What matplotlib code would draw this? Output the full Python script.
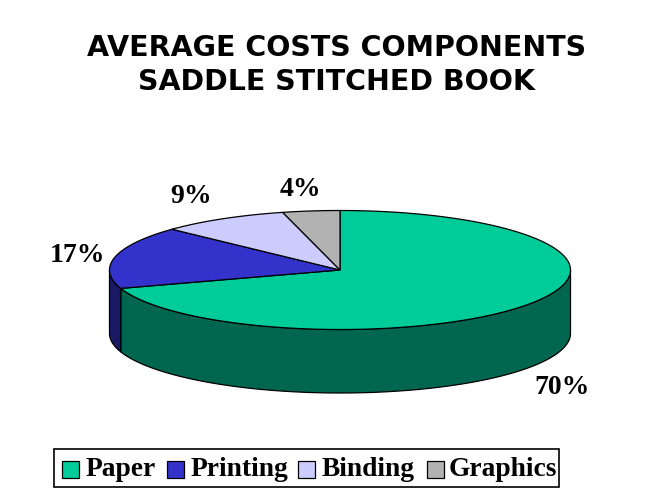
import numpy as np
import matplotlib
matplotlib.use("Agg")
import matplotlib.pyplot as plt
from matplotlib.patches import Polygon, Rectangle

title_lines = ["AVERAGE COSTS COMPONENTS", "SADDLE STITCHED BOOK"]
categories = ["Paper", "Printing", "Binding", "Graphics"]
values = [70, 17, 9, 4]
labels = ["70%", "17%", "9%", "4%"]
top_colors = ["#00CC99", "#3333CC", "#CCCCFF", "#B2B2B2"]
side_colors = ["#006650", "#191966", "#666680", "#595959"]

W, H = 670, 502
fig = plt.figure(figsize=(W/100, H/100), dpi=100, facecolor="white")
ax = fig.add_axes([0, 0, 1, 1])
ax.set_xlim(0, W); ax.set_ylim(H, 0); ax.axis("off")

cx, cy, rx, ry, depth = 340, 271, 230.5, 59.5, 63.5

def pt(a, dy=0):
    return cx + rx*np.cos(a), cy + dy - ry*np.sin(a)

# clockwise from 12 o'clock
fracs = np.array(values)/sum(values)
starts = np.pi/2 - 2*np.pi*np.concatenate([[0], np.cumsum(fracs)[:-1]])
ends = starts - 2*np.pi*fracs

# sides (front half only)
for s, e, c in zip(starts, ends, side_colors):
    t = np.linspace(s, e, 300)
    t = t[np.sin(t) <= 0]
    if len(t) < 2:
        continue
    x, y = pt(t)
    x2, y2 = pt(t[::-1], depth)
    ax.add_patch(Polygon(np.r_[np.c_[x, y], np.c_[x2, y2]], fc=c, ec="black", lw=0.9, zorder=2))

# tops
for s, e, c in zip(starts, ends, top_colors):
    t = np.linspace(s, e, 300)
    x, y = pt(t)
    ax.add_patch(Polygon(np.r_[[[cx, cy]], np.c_[x, y]], fc=c, ec="black", lw=0.9, zorder=3))

serif = "Liberation Serif"
lab_xy = [(562, 388), (77, 256), (191.5, 197), (300.5, 190)]
for l, (x, y) in zip(labels, lab_xy):
    ax.text(x, y, l, family=serif, weight="bold", size=20, ha="center", va="center", color="black")

for line, y in zip(title_lines, [48.5, 81.5]):
    ax.text(337, y, line, family="DejaVu Sans", weight="bold", size=20.5, ha="center", va="center", color="black")

# legend
ax.add_patch(Rectangle((53.5, 449.5), 505, 38, fc="white", ec="black", lw=1.2, zorder=4))
sw_x = [62, 167, 298, 427]
tx_x = [85.5, 190.5, 322, 449]
for name, c, sx, tx in zip(categories, top_colors, sw_x, tx_x):
    ax.add_patch(Rectangle((sx, 462), 16.5, 16.5, fc=c, ec="black", lw=0.9, zorder=5))
    ax.text(tx, 470, name, family=serif, weight="bold", size=19.8, ha="left", va="center", color="black", zorder=5)

fig.savefig("out.png", dpi=100)
